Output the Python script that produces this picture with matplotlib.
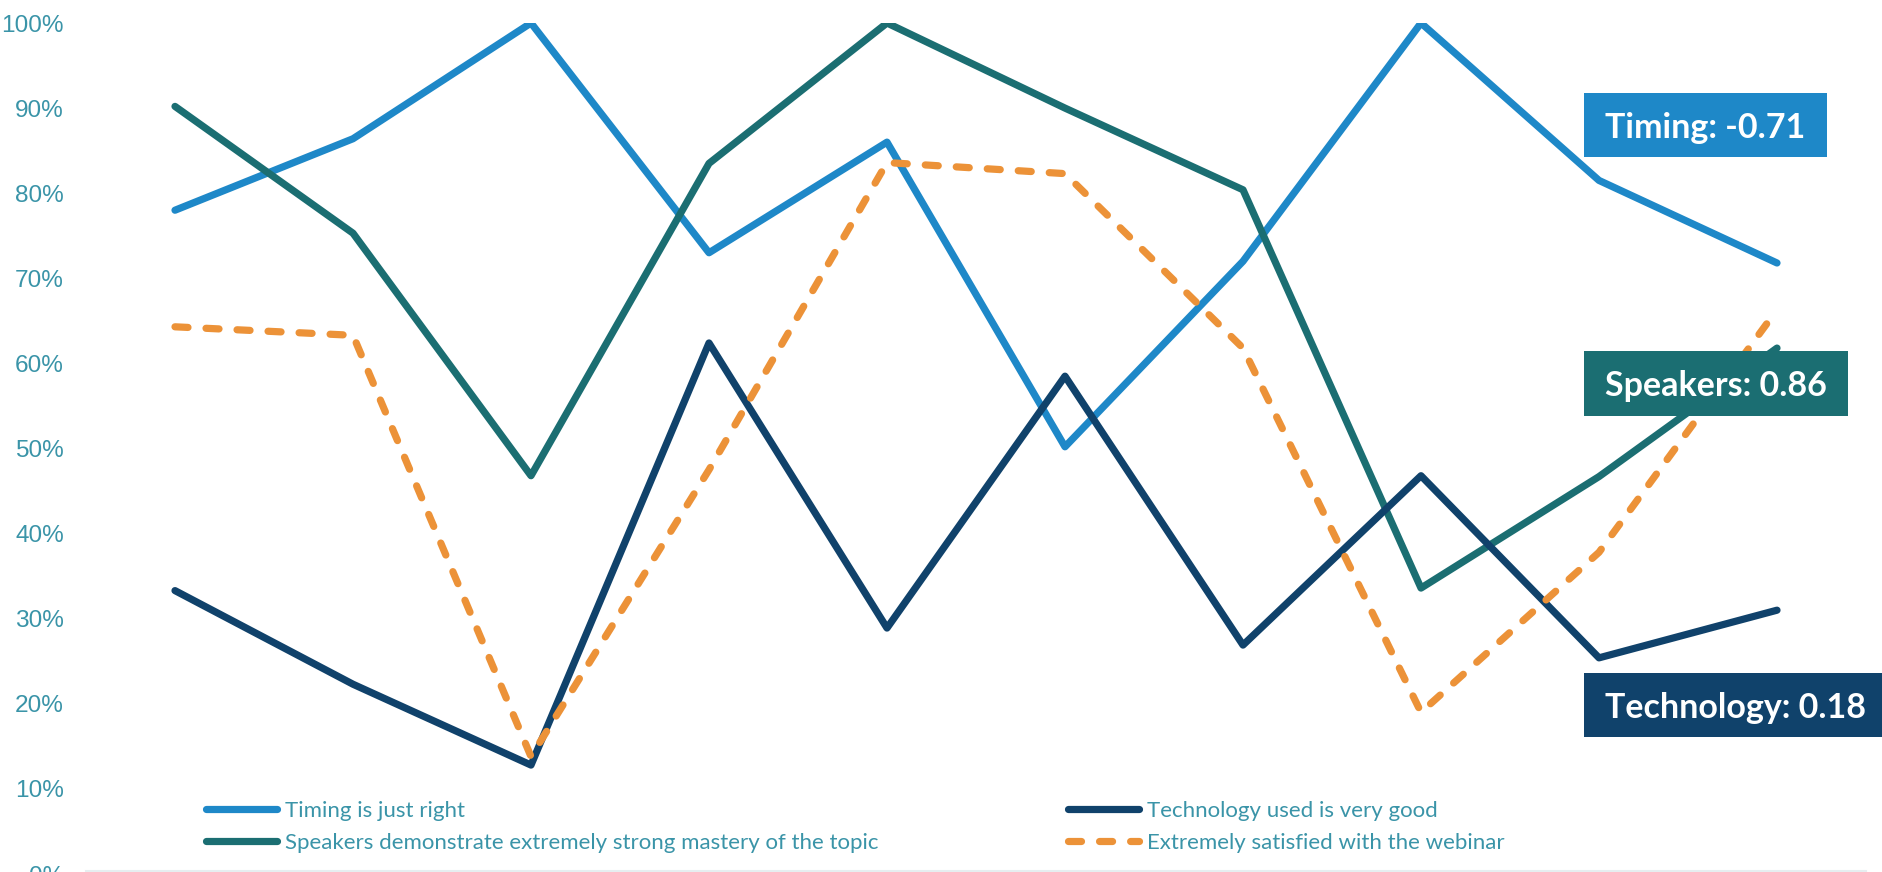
import matplotlib
matplotlib.use("Agg")
import matplotlib.pyplot as plt
from matplotlib.patches import Rectangle
from matplotlib.lines import Line2D

# ---- data ----
sessions = list(range(1, 11))
timing = [0.78, 0.864, 1.00, 0.73, 0.86, 0.502, 0.72, 1.00, 0.815, 0.718]
speakers = [0.902, 0.753, 0.468, 0.835, 1.00, 0.90, 0.804, 0.336, 0.467, 0.618]
technology = [0.333, 0.223, 0.128, 0.624, 0.289, 0.585, 0.269, 0.468, 0.254, 0.31]
satisfied = [0.643, 0.633, 0.138, 0.475, 0.836, 0.823, 0.618, 0.19, 0.378, 0.663]

series_labels = ["Timing is just right",
                 "Speakers demonstrate extremely strong mastery of the topic",
                 "Technology used is very good",
                 "Extremely satisfied with the webinar"]
yticks = [0.0, 0.1, 0.2, 0.3, 0.4, 0.5, 0.6, 0.7, 0.8, 0.9, 1.0]
ytick_labels = ["0%", "10%", "20%", "30%", "40%", "50%", "60%", "70%", "80%", "90%", "100%"]
box_texts = ["Timing: -0.71", "Speakers: 0.86", "Technology: 0.18"]

# ---- style ----
c_timing = "#1E88C8"
c_speak = "#1B6E72"
c_tech = "#10426B"
c_sat = "#EC9238"
c_text = "#3A94A8"

W, H = 1883, 872
fig = plt.figure(figsize=(W / 100, H / 100), dpi=100)
fig.patch.set_facecolor("white")

ax_left, ax_right = 86 / W, 1866 / W
ax_bot = (H - 874) / H
ax_top = (H - 23) / H
ax = fig.add_axes([ax_left, ax_bot, ax_right - ax_left, ax_top - ax_bot])
ax.set_facecolor("none")

lw = 5.2
dash = (1.8, 2.5)
kw = dict(lw=lw, solid_capstyle="round", solid_joinstyle="round")
ax.plot(sessions, timing, color=c_timing, **kw, zorder=3)
ax.plot(sessions, speakers, color=c_speak, **kw, zorder=3)
ax.plot(sessions, technology, color=c_tech, **kw, zorder=3)
ax.plot(sessions, satisfied, color=c_sat, lw=lw, dashes=dash,
        dash_capstyle="round", dash_joinstyle="round", zorder=3)

ax.set_xlim(0.5, 10.5)
ax.set_ylim(0, 1.0)
ax.set_yticks(yticks)
ax.set_yticklabels(ytick_labels, fontfamily="Liberation Sans", fontsize=17.6, color=c_text)
ax.tick_params(axis="y", length=0, pad=16)
ax.set_xticks([])
for s in ["top", "right", "left"]:
    ax.spines[s].set_visible(False)
ax.spines["bottom"].set_color("#E6EEF0")
ax.spines["bottom"].set_linewidth(1.5)
ax.spines["bottom"].set_position(("data", 0.0035))

# ---- legends (two columns) ----
leg_font = dict(family="Lato", size=16)
h_timing = Line2D([], [], color=c_timing, lw=lw, solid_capstyle="round")
h_speak = Line2D([], [], color=c_speak, lw=lw, solid_capstyle="round")
h_tech = Line2D([], [], color=c_tech, lw=lw, solid_capstyle="round")
h_sat = Line2D([], [], color=c_sat, lw=lw, dashes=dash, dash_capstyle="round")

common = dict(frameon=False, prop=leg_font, labelcolor=c_text, loc="center left",
              handlelength=3.2, handletextpad=0.35, labelspacing=0.55,
              borderpad=0, borderaxespad=0, bbox_transform=fig.transFigure)
leg1 = fig.legend([h_timing, h_speak], series_labels[:2],
                  bbox_to_anchor=(206 / W, (H - 827) / H), **common)
leg2 = fig.legend([h_tech, h_sat], series_labels[2:],
                  bbox_to_anchor=(1068 / W, (H - 827) / H), **common)

# ---- correlation boxes ----
boxes = [(1584, 93, 1827, 157, c_timing),
         (1584, 351, 1848, 416, c_speak),
         (1584, 673, 1883, 737, c_tech)]
for (x0, y0, x1, y1, col), txt in zip(boxes, box_texts):
    fig.patches.append(Rectangle((x0 / W, (H - y1) / H), (x1 - x0) / W, (y1 - y0) / H,
                                 transform=fig.transFigure, facecolor=col,
                                 edgecolor="none", zorder=5))
    cy = (y0 + y1) / 2 + 12.5
    fig.text((x0 + 21) / W, (H - cy) / H, txt, family="Lato", weight="bold",
             size=24.5, color="white", ha="left", va="baseline", zorder=6)

fig.savefig("out.png", dpi=100, facecolor="white")
